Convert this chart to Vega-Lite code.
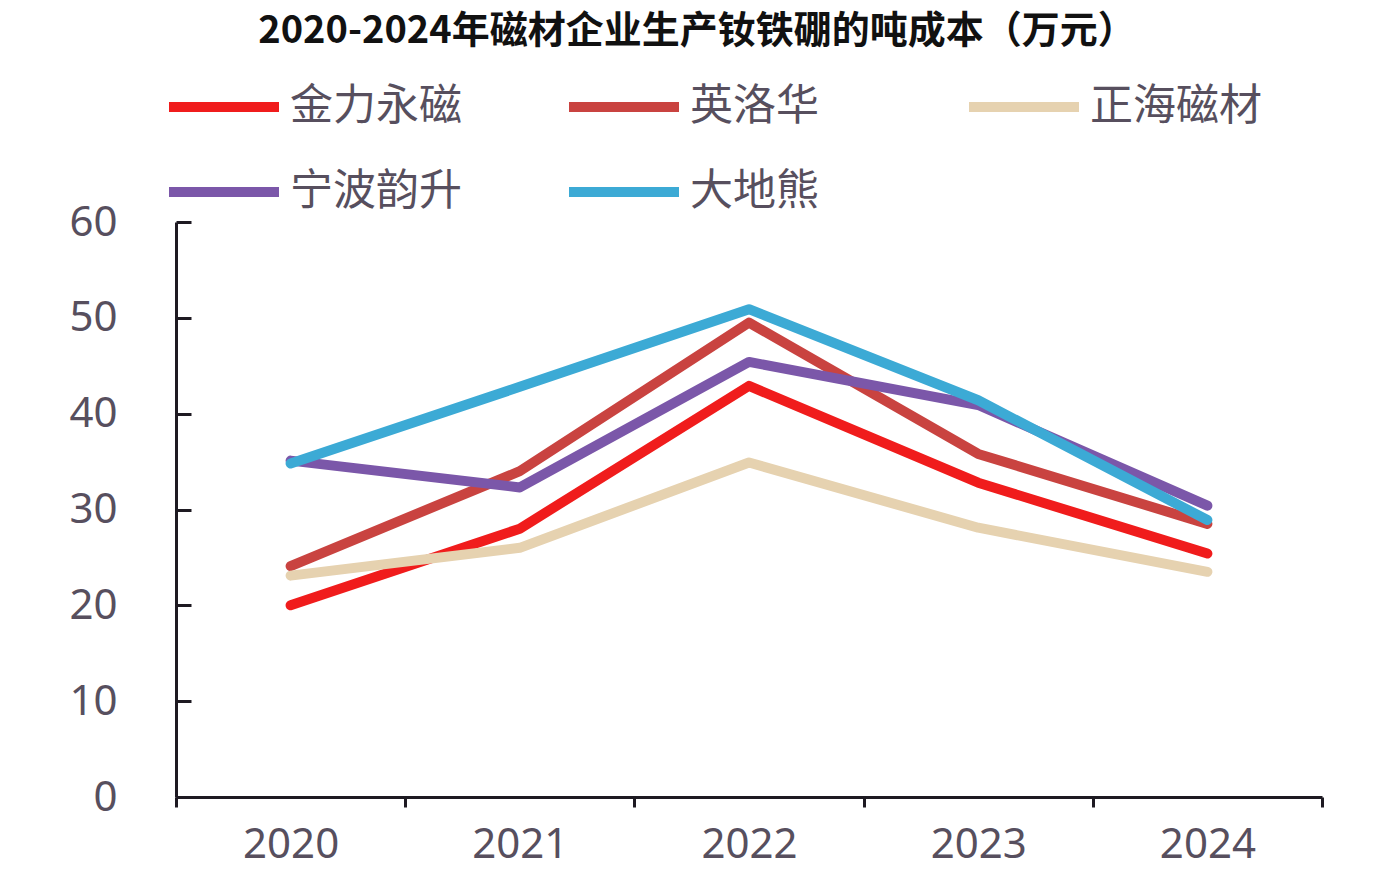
{
  "$schema": "https://vega.github.io/schema/vega-lite/v6.json",
  "width": 1146,
  "height": 575,
  "autosize": {"type": "none"},
  "padding": {"left": 176, "top": 222, "right": 62, "bottom": 85},
  "background": "#ffffff",
  "title": {
    "text": "2020-2024年磁材企业生产钕铁硼的吨成本（万元）",
    "font": "Noto Sans CJK SC",
    "fontSize": 38,
    "fontWeight": "bold",
    "color": "#111111",
    "anchor": "middle",
    "frame": "group",
    "dx": -52,
    "offset": -4
  },
  "data": {
    "values": [
      {"year": "2020", "company": "金力永磁", "cost": 20.0},
      {"year": "2021", "company": "金力永磁", "cost": 28.0},
      {"year": "2022", "company": "金力永磁", "cost": 42.9},
      {"year": "2023", "company": "金力永磁", "cost": 32.8},
      {"year": "2024", "company": "金力永磁", "cost": 25.4},
      {"year": "2020", "company": "英洛华", "cost": 24.1},
      {"year": "2021", "company": "英洛华", "cost": 34.0},
      {"year": "2022", "company": "英洛华", "cost": 49.5},
      {"year": "2023", "company": "英洛华", "cost": 35.8},
      {"year": "2024", "company": "英洛华", "cost": 28.5},
      {"year": "2020", "company": "正海磁材", "cost": 23.1},
      {"year": "2021", "company": "正海磁材", "cost": 26.0},
      {"year": "2022", "company": "正海磁材", "cost": 34.9},
      {"year": "2023", "company": "正海磁材", "cost": 28.1},
      {"year": "2024", "company": "正海磁材", "cost": 23.5},
      {"year": "2020", "company": "宁波韵升", "cost": 35.1},
      {"year": "2021", "company": "宁波韵升", "cost": 32.3},
      {"year": "2022", "company": "宁波韵升", "cost": 45.4},
      {"year": "2023", "company": "宁波韵升", "cost": 40.9},
      {"year": "2024", "company": "宁波韵升", "cost": 30.4},
      {"year": "2020", "company": "大地熊", "cost": 34.8},
      {"year": "2021", "company": "大地熊", "cost": 42.8},
      {"year": "2022", "company": "大地熊", "cost": 50.9},
      {"year": "2023", "company": "大地熊", "cost": 41.4},
      {"year": "2024", "company": "大地熊", "cost": 28.9}
    ]
  },
  "mark": {"type": "line", "strokeWidth": 10, "strokeCap": "round", "strokeJoin": "round"},
  "encoding": {
    "x": {
      "field": "year",
      "type": "ordinal",
      "scale": {"type": "band", "paddingInner": 0, "paddingOuter": 0},
      "axis": {
        "title": null,
        "labelAngle": 0,
        "tickBand": "extent",
        "domainColor": "#1e1a22",
        "domainWidth": 3,
        "tickColor": "#1e1a22",
        "tickWidth": 3,
        "tickSize": 10,
        "labelPadding": 17,
        "labelFont": "Noto Sans",
        "labelFontSize": 42,
        "labelColor": "#574f5e"
      }
    },
    "y": {
      "field": "cost",
      "type": "quantitative",
      "scale": {"domain": [0, 60], "nice": false},
      "axis": {
        "title": null,
        "values": [0, 10, 20, 30, 40, 50, 60],
        "grid": false,
        "domainColor": "#1e1a22",
        "domainWidth": 3,
        "tickColor": "#1e1a22",
        "tickWidth": 3,
        "tickSize": -15,
        "labelPadding": 74,
        "labelFont": "Noto Sans",
        "labelFontSize": 42,
        "labelColor": "#574f5e"
      }
    },
    "color": {
      "field": "company",
      "type": "nominal",
      "sort": ["金力永磁", "英洛华", "正海磁材", "宁波韵升", "大地熊"],
      "scale": {
        "domain": ["金力永磁", "英洛华", "正海磁材", "宁波韵升", "大地熊"],
        "range": ["#f01c1c", "#c94340", "#e6d2b0", "#7b57a9", "#3caad5"]
      },
      "legend": {
        "title": null,
        "orient": "none",
        "legendX": -12,
        "legendY": -175,
        "direction": "horizontal",
        "columns": 3,
        "gridAlign": "all",
        "columnPadding": 87,
        "rowPadding": 3,
        "symbolType": "stroke",
        "symbolSize": 12100,
        "symbolStrokeWidth": 10,
        "labelOffset": 6,
        "labelFont": "Noto Sans CJK SC",
        "labelFontSize": 43,
        "labelColor": "#574f5e",
        "labelLimit": 400
      }
    },
    "order": {"field": "year"}
  },
  "config": {"view": {"stroke": null}}
}
